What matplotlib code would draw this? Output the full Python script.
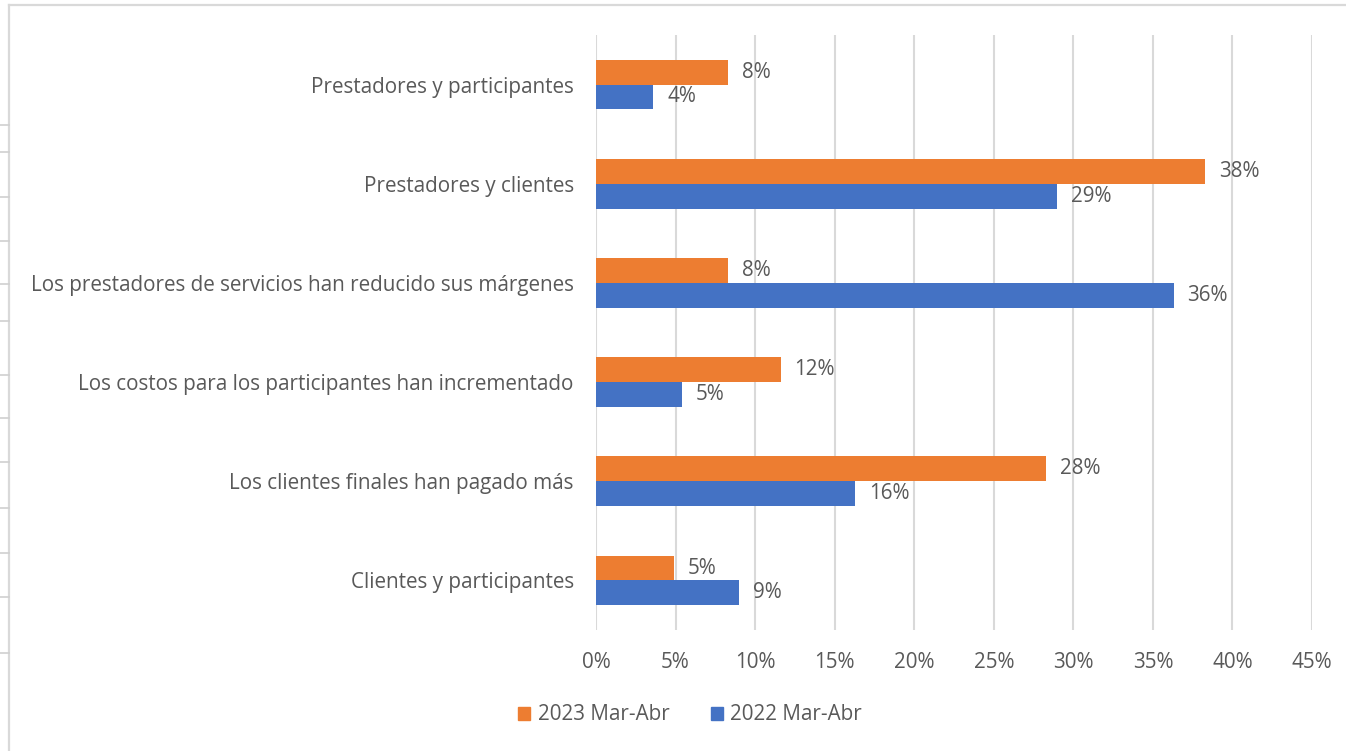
import matplotlib
matplotlib.use("Agg")
import matplotlib.pyplot as plt
from matplotlib.lines import Line2D
from matplotlib.patches import Patch
import numpy as np

categories = [
    "Prestadores y participantes",
    "Prestadores y clientes",
    "Los prestadores de servicios han reducido sus márgenes",
    "Los costos para los participantes han incrementado",
    "Los clientes finales han pagado más",
    "Clientes y participantes",
]
series_2023 = [8.3, 38.3, 8.3, 11.6, 28.3, 4.9]
series_2022 = [3.6, 29.0, 36.3, 5.4, 16.3, 9.0]
series_names = ["2023 Mar-Abr", "2022 Mar-Abr"]
xticks = [0, 5, 10, 15, 20, 25, 30, 35, 40, 45]

ORANGE = "#ED7D31"
BLUE = "#4472C4"
TEXT = "#595959"
GRID = "#d9d9d9"

plt.rcParams["font.family"] = ["Open Sans", "DejaVu Sans"]

W, H = 1346, 751
fig = plt.figure(figsize=(W / 100, H / 100), dpi=100)
ax = fig.add_axes([596 / W, 1 - 630 / H, (1312 - 596) / W, (630 - 35) / H])

y = np.arange(len(categories))
bh = 0.25
b1 = ax.barh(y - bh / 2, series_2023, height=bh, color=ORANGE, label=series_names[0], zorder=3)
b2 = ax.barh(y + bh / 2, series_2022, height=bh, color=BLUE, label=series_names[1], zorder=3)

fs = 14.9
for bars in (b1, b2):
    ax.bar_label(bars, labels=[f"{v:.0f}%" for v in bars.datavalues], padding=10,
                 fontsize=fs, color=TEXT)

ax.set_ylim(len(categories) - 0.5, -0.5)
ax.set_xlim(0, 45)
ax.set_xticks(xticks)
ax.set_xticklabels([f"{t}%" for t in xticks])
ax.set_yticks(y)
ax.set_yticklabels(categories)
ax.tick_params(axis="both", length=0, labelsize=fs, labelcolor=TEXT)
ax.tick_params(axis="y", pad=16)
ax.tick_params(axis="x", pad=16)
ax.xaxis.grid(True, color=GRID, linewidth=1.5, zorder=0)
ax.set_axisbelow(True)
for s in ax.spines.values():
    s.set_visible(False)

# legend
handles = [Patch(color=ORANGE, label=series_names[0]), Patch(color=BLUE, label=series_names[1])]
fig.legend(handles=handles, loc="center", bbox_to_anchor=(690 / W, 1 - 715 / H), ncol=2,
           frameon=False, fontsize=fs, labelcolor=TEXT, handlelength=0.6, handleheight=0.6,
           handletextpad=0.35, columnspacing=2.0)

# chart frame and sheet cell lines
fig.add_artist(Line2D([9 / W, 9 / W], [0, 1 - 5 / H], color="#d9d9d9", linewidth=1.6,
                      transform=fig.transFigure))
fig.add_artist(Line2D([9 / W, 1], [1 - 5 / H, 1 - 5 / H], color="#d9d9d9", linewidth=1.6,
                      transform=fig.transFigure))
for yy in [125, 152, 197, 241, 284, 321, 375, 418, 462, 508, 553, 597, 653]:
    fig.add_artist(Line2D([0, 9 / W], [1 - yy / H, 1 - yy / H], color="#d0d0d0", linewidth=1.2,
                          transform=fig.transFigure))

fig.savefig("out.png", dpi=100, facecolor="white")
